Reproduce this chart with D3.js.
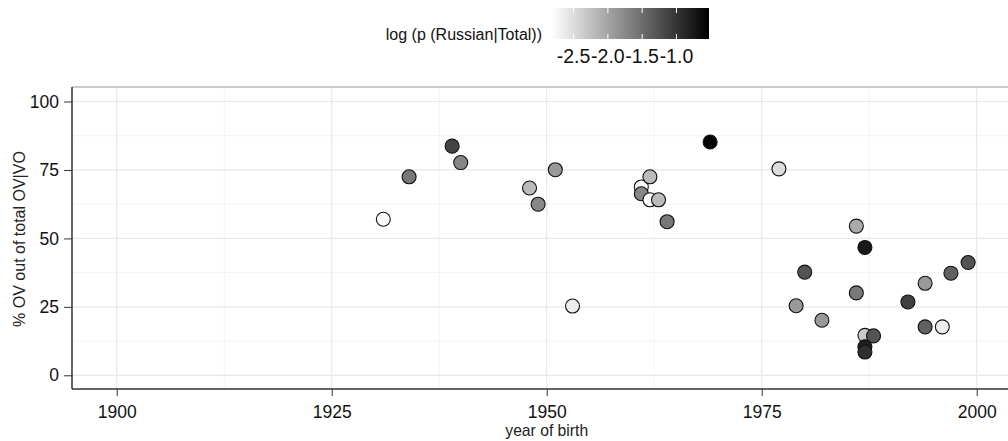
<!DOCTYPE html>
<html>
<head>
<meta charset="utf-8">
<script src="https://cdn.jsdelivr.net/npm/d3@7"></script>
<style>
  body { margin: 0; background: #fff; }
  svg { display: block; font-family: "Liberation Sans", Arial, sans-serif; }
</style>
</head>
<body>
<svg></svg>
<script>
// year of birth, % OV out of total, log p(Russian|Total)
const years  = [1931, 1934, 1939, 1940, 1948, 1949, 1951, 1953, 1961, 1961, 1962, 1962, 1963, 1964, 1969,
                1977, 1986, 1987, 1980, 1986, 1979, 1982, 1987, 1988, 1987, 1987, 1992, 1994, 1997, 1999, 1994, 1996];
const ovPct  = [57.0, 72.5, 83.7, 77.7, 68.4, 62.5, 75.1, 25.3, 68.8, 66.3, 72.5, 64.1, 64.1, 56.1, 85.2,
                75.4, 54.5, 46.7, 37.7, 30.1, 25.4, 20.1, 14.6, 14.4, 10.4, 8.5, 26.8, 33.6, 37.3, 41.2, 17.7, 17.7];
const logP   = [-2.8, -1.6, -1.14, -1.74, -2.2, -1.74, -1.9, -2.65, -2.75, -1.74, -2.2, -2.8, -2.2, -1.6, -0.55,
                -2.5, -2.05, -0.75, -1.28, -1.6, -1.9, -1.9, -2.35, -1.28, -0.8, -0.95, -1.1, -1.9, -1.4, -1.28, -1.4, -2.65];
const xTicks = [1900, 1925, 1950, 1975, 2000];
const yTicks = [0, 25, 50, 75, 100];
const legendTicks = [-2.5, -2.0, -1.5, -1.0];

const width = 1008, height = 441;
const font = '"Liberation Sans", Arial, sans-serif';
const svg = d3.select('svg').attr('width', width).attr('height', height);

const panel = { left: 72, top: 87, bottom: 389 };

const x = d3.scaleLinear().domain([1894.8, 2005]).range([panel.left, panel.left + 110.2 * 8.6]);
const y = d3.scaleLinear().domain([-5, 105.3]).range([panel.bottom, panel.top]);
const colorDomain = [-2.815, -0.525];
const color = d3.scaleLinear().domain(colorDomain).range(['#ffffff', '#000000']);

const g = svg.append('g');

// minor gridlines
const xMinor = xTicks.map(d => d + 12.5);
g.selectAll('.xminor').data(xMinor).enter().append('line')
    .attr('x1', d => x(d)).attr('x2', d => x(d))
    .attr('y1', panel.top).attr('y2', panel.bottom)
    .attr('stroke', '#f3f3f3').attr('stroke-width', 1);
const yMinor = yTicks.slice(0, -1).map(d => d + 12.5);
g.selectAll('.yminor').data(yMinor).enter().append('line')
    .attr('x1', panel.left).attr('x2', width)
    .attr('y1', d => y(d)).attr('y2', d => y(d))
    .attr('stroke', '#f3f3f3').attr('stroke-width', 1);

// major gridlines
g.selectAll('.xmajor').data(xTicks).enter().append('line')
    .attr('x1', d => x(d)).attr('x2', d => x(d))
    .attr('y1', panel.top).attr('y2', panel.bottom)
    .attr('stroke', '#e8e8e8').attr('stroke-width', 1.2);
g.selectAll('.ymajor').data(yTicks).enter().append('line')
    .attr('x1', panel.left).attr('x2', width)
    .attr('y1', d => y(d)).attr('y2', d => y(d))
    .attr('stroke', '#e8e8e8').attr('stroke-width', 1.2);

// top border
g.append('line')
    .attr('x1', panel.left).attr('x2', width)
    .attr('y1', panel.top).attr('y2', panel.top)
    .attr('stroke', '#999').attr('stroke-width', 1.2);

// points
const pts = years.map((d, i) => ({ yr: d, v: ovPct[i], c: logP[i] }));
g.selectAll('circle').data(pts).enter().append('circle')
    .attr('cx', d => x(d.yr))
    .attr('cy', d => y(d.v))
    .attr('r', 7)
    .attr('fill', d => color(d.c))
    .attr('stroke', '#111')
    .attr('stroke-width', 1.1);

// axes
const xAxis = svg.append('g')
    .attr('transform', `translate(0,${panel.bottom})`)
    .call(d3.axisBottom(x).tickValues(xTicks).tickFormat(d3.format('d')).tickSize(7).tickPadding(0));
xAxis.select('.domain').attr('d', `M${panel.left},0H${width}`).attr('stroke', '#333').attr('stroke-width', 1.3);
xAxis.selectAll('.tick line').attr('stroke', '#333');
xAxis.selectAll('text').attr('dy', null).attr('y', 28.5)
    .attr('font-size', 17.5).attr('fill', '#111').attr('font-family', font);

const yAxis = svg.append('g')
    .attr('transform', `translate(${panel.left},0)`)
    .call(d3.axisLeft(y).tickValues(yTicks).tickSize(8).tickPadding(5));
yAxis.select('.domain').attr('d', `M0,${panel.top}V${panel.bottom}`).attr('stroke', '#111').attr('stroke-width', 1.3);
yAxis.selectAll('.tick line').attr('stroke', '#333');
yAxis.selectAll('text').attr('font-size', 17.5).attr('fill', '#111').attr('font-family', font);

// axis titles
svg.append('text')
    .attr('x', x(1950)).attr('y', 436)
    .attr('text-anchor', 'middle').attr('font-size', 15.7).attr('fill', '#222')
    .text('year of birth');
svg.append('text')
    .attr('transform', `translate(25,${(panel.top + panel.bottom) / 2 + 1}) rotate(-90)`)
    .attr('text-anchor', 'middle').attr('font-size', 16).attr('fill', '#222')
    .text('% OV out of total OV|VO');

// legend
const lg = { x0: 552, x1: 709, y0: 8, y1: 39 };
const defs = svg.append('defs');
const grad = defs.append('linearGradient').attr('id', 'grad');
d3.range(0, 1.0001, 0.1).forEach(t => {
    grad.append('stop').attr('offset', t)
        .attr('stop-color', color(colorDomain[0] + t * (colorDomain[1] - colorDomain[0])));
});
svg.append('rect')
    .attr('x', lg.x0).attr('y', lg.y0)
    .attr('width', lg.x1 - lg.x0).attr('height', lg.y1 - lg.y0)
    .attr('fill', 'url(#grad)');
const lx = d3.scaleLinear().domain(colorDomain).range([lg.x0, lg.x1]);
legendTicks.forEach(t => {
    [[lg.y0, lg.y0 + 5], [lg.y1 - 5, lg.y1]].forEach(([a, b]) => {
        svg.append('line')
            .attr('x1', lx(t)).attr('x2', lx(t)).attr('y1', a).attr('y2', b)
            .attr('stroke', '#fff').attr('stroke-width', 1);
    });
    svg.append('text')
        .attr('x', lx(t)).attr('y', 63.3)
        .attr('text-anchor', 'middle').attr('font-size', 19.5).attr('fill', '#111')
        .text(t.toFixed(1));
});
svg.append('text')
    .attr('x', 542).attr('y', 40)
    .attr('text-anchor', 'end').attr('font-size', 16).attr('fill', '#111')
    .text('log (p (Russian|Total))');
</script>
</body>
</html>
